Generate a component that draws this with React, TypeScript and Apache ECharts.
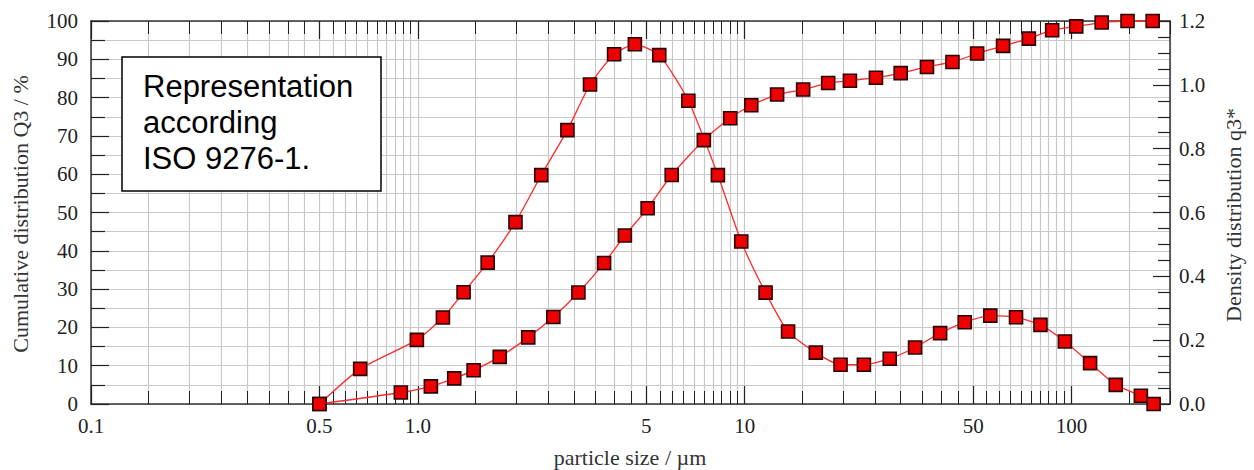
import React, { useEffect, useRef } from "react";
import * as echarts from "echarts";

// Cumulative distribution Q3 (%) at particle sizes (µm)
const sizesQ3 = [0.5, 0.887, 1.096, 1.292, 1.481, 1.78, 2.176, 2.597, 3.098, 3.713, 4.298, 5.045, 5.978, 7.497, 9.027, 10.47, 12.56, 15.09, 18.0, 20.98, 25.2, 30.0, 36.1, 43.2, 51.4, 61.7, 74.0, 87.2, 103.3, 123.6, 148.3, 177];
const valuesQ3 = [0, 3.0, 4.6, 6.7, 8.8, 12.3, 17.4, 22.7, 29.1, 36.8, 44.0, 51.1, 59.8, 68.9, 74.6, 78.0, 80.8, 82.1, 83.8, 84.4, 85.2, 86.4, 88.0, 89.3, 91.5, 93.5, 95.4, 97.6, 98.6, 99.6, 100, 100];

// Density distribution q3* at particle sizes (µm)
const sizesQ3d = [0.5, 0.666, 0.993, 1.193, 1.38, 1.635, 1.989, 2.385, 2.867, 3.363, 3.984, 4.612, 5.477, 6.722, 8.277, 9.757, 11.58, 13.57, 16.5, 19.64, 23.15, 27.77, 33.2, 39.6, 47.1, 56.4, 67.6, 80.3, 95.4, 113.9, 136.5, 162.9, 178.2];
const valuesQ3d = [0, 0.110, 0.201, 0.271, 0.350, 0.443, 0.570, 0.717, 0.858, 1.001, 1.096, 1.127, 1.093, 0.950, 0.717, 0.509, 0.349, 0.227, 0.161, 0.123, 0.123, 0.142, 0.177, 0.222, 0.256, 0.277, 0.272, 0.248, 0.196, 0.128, 0.060, 0.026, 0];

// x axis (log scale) tick labels
const xLabelValues = [0.1, 0.5, 1, 5, 10, 50, 100];
const xLabelTexts = ["0.1", "0.5", "1.0", "5", "10", "50", "100"];
const xMin = 0.1;
const xMax = 200;
const gridDecades = [0.1, 1, 10, 100];
const gridMultipliers = [1, 1.5, 2, 2.5, 3, 3.5, 4, 4.5, 5, 5.5, 6, 6.5, 7, 7.5, 8, 8.5, 9, 9.5];

// y axes
const leftMin = 0, leftMax = 100, leftInterval = 10;
const rightMin = 0, rightMax = 1.2, rightInterval = 0.2;

const textBox = ["Representation", "according", "ISO 9276-1."];
const xTitle = "particle size / µm";
const leftTitle = "Cumulative distribution Q3 / %";
const rightTitle = "Density distribution q3*";

const lg = (v: number) => Math.log10(v);

export default function App() {
  const ref = useRef<HTMLDivElement>(null);
  useEffect(() => {
    if (!ref.current) return;
    const chart = echarts.init(ref.current, undefined, { renderer: "svg" });

    const allTicks: number[] = [];
    gridDecades.forEach((d) => gridMultipliers.forEach((m) => {
      const v = d * m;
      if (v <= xMax + 1e-9) allTicks.push(lg(v));
    }));
    allTicks.push(lg(xMax));
    const labelTicks = xLabelValues.map(lg);

    const serif = "Liberation Serif";
    const axisColor = "#333";
    const gridColor = "#c8c8c8";
    const labelStyle = { fontSize: 21, fontFamily: serif, color: "#222" };

    const xBase = {
      type: "value",
      min: lg(xMin),
      max: lg(xMax),
      gridIndex: 0,
    };

    const option: any = {
      animation: false,
      backgroundColor: "#fff",
      grid: { left: 91, right: 84, top: 21, bottom: 66, containLabel: false },
      xAxis: [
        {
          ...xBase,
          position: "bottom",
          axisLine: { show: true, onZero: false, lineStyle: { color: axisColor, width: 1.5 } },
          axisTick: { show: true, inside: true, length: 13, customValues: allTicks, lineStyle: { color: "#222", width: 1 } },
          axisLabel: {
            ...labelStyle,
            margin: 11,
            customValues: labelTicks,
            formatter: (v: number) => {
              const i = labelTicks.findIndex((t) => Math.abs(t - v) < 1e-6);
              return i >= 0 ? xLabelTexts[i] : "";
            },
          },
          splitLine: { show: true, lineStyle: { color: gridColor, width: 1.2 } },
        },
        {
          ...xBase,
          position: "bottom",
          axisLine: { show: false, onZero: false },
          axisTick: { show: true, inside: true, length: 18, customValues: labelTicks, lineStyle: { color: "#222", width: 1.2 } },
          axisLabel: { show: false },
          splitLine: { show: false },
        },
        {
          ...xBase,
          position: "top",
          axisLine: { show: true, onZero: false, lineStyle: { color: axisColor, width: 1.5 } },
          axisTick: { show: true, inside: true, length: 13, customValues: allTicks, lineStyle: { color: "#222", width: 1 } },
          axisLabel: { show: false },
          splitLine: { show: false },
        },
        {
          ...xBase,
          position: "top",
          axisLine: { show: false, onZero: false },
          axisTick: { show: true, inside: true, length: 18, customValues: labelTicks, lineStyle: { color: "#222", width: 1.2 } },
          axisLabel: { show: false },
          splitLine: { show: false },
        },
      ],
      yAxis: [
        {
          type: "value",
          position: "left",
          min: leftMin,
          max: leftMax,
          interval: leftInterval,
          axisLine: { show: true, onZero: false, lineStyle: { color: axisColor, width: 1.5 } },
          axisTick: { show: true, inside: true, length: 18, lineStyle: { color: "#222", width: 1.2 } },
          minorTick: { show: true, splitNumber: 2, length: 14, lineStyle: { color: "#222", width: 1.2 } },
          axisLabel: { ...labelStyle, margin: 13 },
          splitLine: { show: true, lineStyle: { color: gridColor, width: 1.2 } },
          minorSplitLine: { show: true, lineStyle: { color: gridColor, width: 1.2 } },
        },
        {
          type: "value",
          position: "right",
          min: rightMin,
          max: rightMax,
          interval: rightInterval,
          axisLine: { show: true, onZero: false, lineStyle: { color: axisColor, width: 1.5 } },
          axisTick: { show: true, inside: true, length: 17, lineStyle: { color: "#222", width: 1.2 } },
          minorTick: { show: true, splitNumber: 4, length: 12, lineStyle: { color: "#222", width: 1.2 } },
          axisLabel: { ...labelStyle, margin: 9, formatter: (v: number) => v.toFixed(1) },
          splitLine: { show: false },
        },
      ],
      series: [
        {
          name: "Q3",
          type: "line",
          xAxisIndex: 0,
          yAxisIndex: 0,
          data: sizesQ3.map((s, i) => [lg(s), valuesQ3[i]]),
          smooth: 0.2,
          clip: false,
          symbol: "rect",
          symbolSize: 13,
          lineStyle: { color: "#ff2a2a", width: 1.3 },
          itemStyle: { color: "#ee0000", borderColor: "#2a0000", borderWidth: 1.6 },
          z: 3,
        },
        {
          name: "q3*",
          type: "line",
          xAxisIndex: 0,
          yAxisIndex: 1,
          data: sizesQ3d.map((s, i) => [lg(s), valuesQ3d[i]]),
          smooth: 0.2,
          clip: false,
          symbol: "rect",
          symbolSize: 13,
          lineStyle: { color: "#ff2a2a", width: 1.3 },
          itemStyle: { color: "#ee0000", borderColor: "#2a0000", borderWidth: 1.6 },
          z: 3,
        },
      ],
      graphic: [
        {
          type: "rect",
          z: 100,
          shape: { x: 122, y: 57, width: 259, height: 134 },
          style: { fill: "#fff", stroke: "#000", lineWidth: 1.5 },
        },
        ...textBox.map((t, i) => ({
          type: "text",
          z: 101,
          x: 143,
          y: 86 + i * 36,
          style: { text: t, fontSize: 31, fontFamily: "Liberation Sans", fill: "#000", align: "left", verticalAlign: "middle" },
        })),
        {
          type: "text",
          z: 101,
          x: 630,
          y: 457,
          style: { text: xTitle, fontSize: 22, fontFamily: serif, fill: "#333", align: "center", verticalAlign: "middle" },
        },
        {
          type: "text",
          z: 101,
          x: 20,
          y: 214,
          rotation: Math.PI / 2,
          style: { text: leftTitle, fontSize: 22, fontFamily: serif, fill: "#333", align: "center", verticalAlign: "middle" },
        },
        {
          type: "text",
          z: 101,
          x: 1233,
          y: 215,
          rotation: Math.PI / 2,
          style: { text: rightTitle, fontSize: 22, fontFamily: serif, fill: "#333", align: "center", verticalAlign: "middle" },
        },
      ],
    };

    chart.setOption(option);
    return () => chart.dispose();
  }, []);

  return (
    <div
      ref={ref}
      style={{ position: "fixed", left: 0, top: 0, width: 1254, height: 470 }}
    />
  );
}
